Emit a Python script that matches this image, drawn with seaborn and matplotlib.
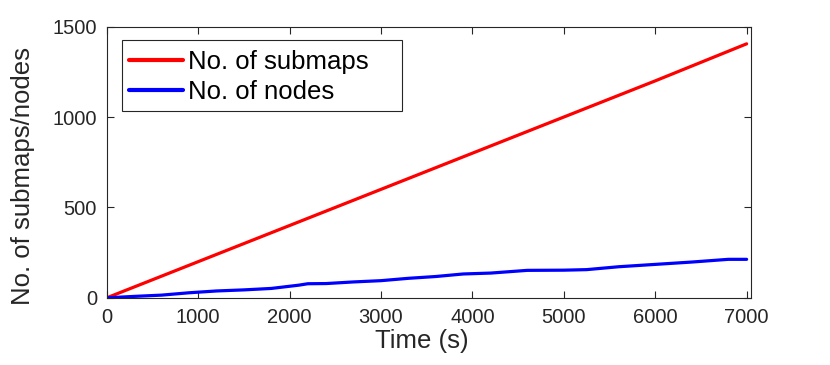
import matplotlib
matplotlib.use("Agg")
import matplotlib.pyplot as plt
import seaborn as sns
import pandas as pd
from matplotlib.patches import Rectangle

# ---- data ----
time_submaps = [0, 1000, 2000, 3000, 4000, 5000, 6000, 7000]
submaps = [0, 200, 400, 600, 800, 1000, 1200, 1405]

time_nodes = [0, 300, 600, 900, 1200, 1500, 1800, 2100, 2200, 2400, 2700, 3000,
              3300, 3600, 3900, 4200, 4600, 5000, 5250, 5600, 6000, 6400, 6800, 7000]
nodes = [0, 8, 15, 28, 38, 44, 52, 70, 78, 79, 88, 95,
         108, 118, 132, 137, 152, 153, 156, 172, 185, 198, 213, 213]

series_labels = ["No. of submaps", "No. of nodes"]
x_ticks = [0, 1000, 2000, 3000, 4000, 5000, 6000, 7000]
y_ticks = [0, 500, 1000, 1500]

df = pd.concat([
    pd.DataFrame({"t": time_submaps, "v": submaps, "s": series_labels[0]}),
    pd.DataFrame({"t": time_nodes, "v": nodes, "s": series_labels[1]}),
])

sns.set_style("white")
plt.rcParams["font.family"] = ["Liberation Sans", "DejaVu Sans"]
txt = "#262626"

fig = plt.figure(figsize=(8.3, 3.65), dpi=100)
ax = fig.add_axes([0.1286, 0.184, 0.7759, 0.743])

sns.lineplot(data=df, x="t", y="v", hue="s", palette=["#ff0000", "#0000ff"],
             linewidth=2.3, ax=ax, legend=True, sort=False)

ax.set_xlim(0, 7045)
ax.set_ylim(0, 1500)
ax.set_xticks(x_ticks)
ax.set_yticks(y_ticks)
ax.tick_params(direction="in", length=5, width=0.8, colors=txt, labelsize=14.5,
               top=True, right=True, bottom=True, left=True, pad=7)
for sp in ax.spines.values():
    sp.set_visible(True)
    sp.set_color(txt)
    sp.set_linewidth(0.8)

ax.set_xlabel("Time (s)", fontsize=18.5, color=txt, labelpad=8)
ax.set_ylabel("No. of submaps/nodes", fontsize=18.5, color=txt)
ax.yaxis.set_label_coords(-0.112, 0.45)
ax.xaxis.set_label_coords(0.49, -0.115)
ax.xaxis.label.set_va("top")

handles, labels = ax.get_legend_handles_labels()
leg = ax.legend(handles, labels, loc="upper left", bbox_to_anchor=(0.031, 0.925),
                frameon=False, fontsize=18.5, handlelength=2.1, handletextpad=0.2,
                labelspacing=0.25, borderaxespad=0, borderpad=0.1)
for h in leg.legend_handles:
    h.set_linewidth(3)
for t in leg.get_texts():
    t.set_color("black")

ax.add_patch(Rectangle((0.0233, 0.690), 0.4347, 0.260, transform=ax.transAxes,
                       facecolor="white", edgecolor=txt, linewidth=0.8, zorder=4))
leg.set_zorder(5)

fig.savefig("out.png", dpi=100)
